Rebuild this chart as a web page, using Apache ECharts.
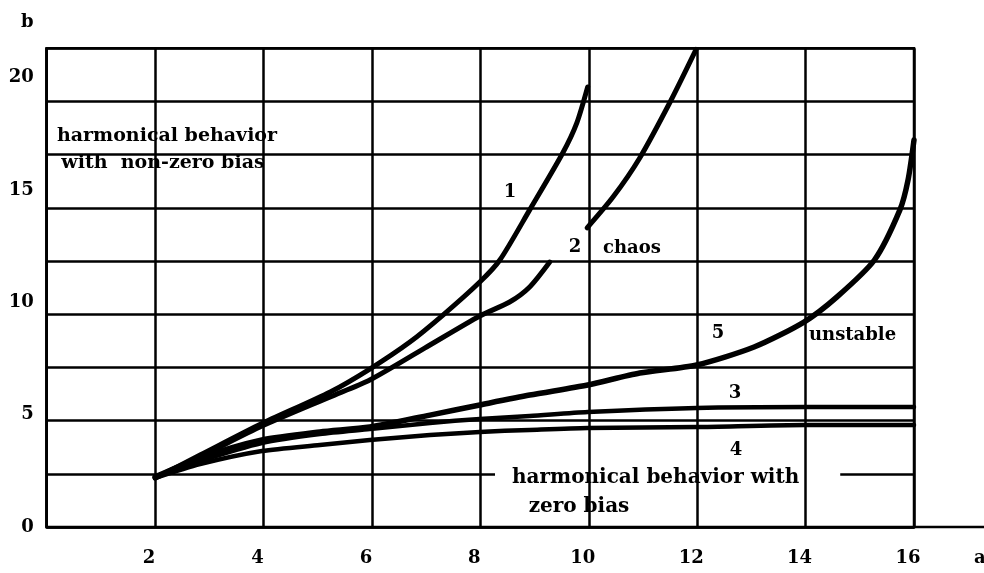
<!DOCTYPE html>
<html><head><meta charset="utf-8">
<script src="https://cdn.jsdelivr.net/npm/echarts@6/dist/echarts.min.js"></script>
<style>html,body{margin:0;padding:0;background:#fff}#c{width:984px;height:573px}</style>
</head><body><div id="c"></div>
<script>
// axis settings (values in chart units)
const xMax = 16;
const yMax = 21.3;
const yGridCount = 9;
const xTickLabels = [2, 4, 6, 8, 10, 12, 14, 16];
const yTickLabels = [0, 5, 10, 15, 20];

// curves [a, b]
const curve1 = [[2.0,2.18],[2.83,3.20],[3.95,4.58],[5.23,6.01],[5.96,7.03],[6.70,8.23],[7.31,9.43],[7.99,10.90],[8.36,11.88],[8.91,14.11],[9.52,16.64],[9.78,17.98],[9.98,19.58]];
const curve2 = [[2.0,2.18],[2.83,3.12],[3.97,4.49],[5.23,5.79],[5.96,6.54],[6.98,7.97],[7.99,9.39],[8.54,10.01],[8.91,10.68],[9.28,11.79],[9.6,null],[9.97,13.31],[10.45,14.69],[10.94,16.42],[11.52,19.00],[11.98,21.25]];
const curve3 = [[2.0,2.23],[2.83,2.94],[3.97,3.74],[5.04,4.14],[5.96,4.36],[7.07,4.63],[7.99,4.81],[8.91,4.94],[9.98,5.12],[11.99,5.30],[13.99,5.34],[16.0,5.34]];
const curve4 = [[2.0,2.18],[2.83,2.80],[3.97,3.38],[5.04,3.65],[5.96,3.87],[7.07,4.09],[7.99,4.23],[8.91,4.32],[9.98,4.41],[11.99,4.45],[13.99,4.54],[16.0,4.54]];
const curve5 = [[2.0,2.23],[2.83,3.07],[3.97,3.87],[5.04,4.23],[5.96,4.45],[7.07,4.98],[7.99,5.43],[8.91,5.87],[9.98,6.32],[10.94,6.85],[11.99,7.21],[13.05,8.01],[13.97,9.12],[14.58,10.24],[15.27,11.88],[15.74,14.11],[15.89,15.44],[16.0,17.22]];

const FONT = '"DejaVu Serif", "Liberation Serif", serif';
const chart = echarts.init(document.getElementById('c'), null, {renderer: 'canvas'});

function line(name, data, w) {
  return {
    name, type: 'line', data, showSymbol: false, smooth: 0.25, connectNulls: false,
    xAxisIndex: 0, yAxisIndex: 0, z: 6,
    lineStyle: {color: '#000', width: w, cap: 'round', join: 'round'},
    itemStyle: {color: '#000'}
  };
}

function txt(text, x, y, align, size) {
  return {
    type: 'text', z: 7, silent: true,
    style: {text, x, y, font: 'bold ' + (size || 18) + 'px ' + FONT, fill: '#000', align: align || 'center', verticalAlign: 'middle'}
  };
}

const option = {
  animation: false,
  backgroundColor: '#fff',
  grid: {left: 46.7, right: 70, top: 48.3, bottom: 46, outerBoundsMode: 'none', containLabel: false,
    show: true, borderColor: '#000', borderWidth: 2.5, backgroundColor: 'transparent'},
  xAxis: {
    type: 'value', min: 0, max: xMax, interval: 2, z: 5,
    axisLine: {show: true, lineStyle: {color: '#000', width: 2.5}},
    axisTick: {show: false},
    splitLine: {show: true, lineStyle: {color: '#000', width: 2.5}},
    axisLabel: {
      show: true, margin: 22, showMinLabel: false, color: '#000', fontFamily: FONT, fontWeight: 'bold', fontSize: 18,
      padding: [0, 12, 0, 0],
      formatter: v => xTickLabels.includes(v) ? String(v) : ''
    }
  },
  yAxis: [
    {
      type: 'value', min: 0, max: yMax, interval: yMax / yGridCount, z: 0,
      axisLine: {show: true, lineStyle: {color: '#000', width: 2.5}},
      axisTick: {show: false}, axisLabel: {show: false},
      splitLine: {show: true, lineStyle: {color: '#000', width: 2.5}}
    },
    {
      type: 'value', min: 0, max: yMax, interval: 5, position: 'left', z: 0,
      name: 'b', nameLocation: 'end', nameGap: 17,
      nameTextStyle: {fontFamily: FONT, fontWeight: 'bold', fontSize: 18, color: '#000', align: 'right', padding: [0, 13, 0, 0]},
      axisLine: {show: false}, axisTick: {show: false}, splitLine: {show: false},
      axisLabel: {
        show: true, margin: 13, showMaxLabel: false, color: '#000', fontFamily: FONT, fontWeight: 'bold', fontSize: 18,
        formatter: v => yTickLabels.includes(v) ? String(v) : ''
      }
    }
  ],
  series: [
    line('1', curve1, 5),
    line('2', curve2, 5),
    line('3', curve3, 4.5),
    line('4', curve4, 4.5),
    line('5', curve5, 5.5)
  ],
  graphic: [
    // extension of the a-axis beyond the frame, and its name
    {type: 'line', z: 5, silent: true, shape: {x1: 914, y1: 527, x2: 984, y2: 527}, style: {stroke: '#000', lineWidth: 2.5}},
    txt('a', 974, 558, 'left'),
    txt('harmonical behavior', 167, 136, 'center', 19),
    txt('with  non-zero bias', 163, 163, 'center', 19),
    txt('1', 510, 192),
    txt('2', 575, 247),
    txt('chaos', 603, 248, 'left'),
    txt('5', 718, 333),
    txt('unstable', 809, 335, 'left'),
    txt('3', 735, 393),
    txt('4', 736, 450),
    {type: 'text', z: 2, silent: true,
      style: {text: 'harmonical behavior with', x: 495, y: 478, font: 'bold 20px ' + FONT, fill: '#000', align: 'left', verticalAlign: 'middle',
        backgroundColor: '#fff', padding: [5, 41, 5, 17]}},
    txt('zero bias', 579, 507, 'center', 20)
  ]
};
chart.setOption(option);
</script>
</body></html>
